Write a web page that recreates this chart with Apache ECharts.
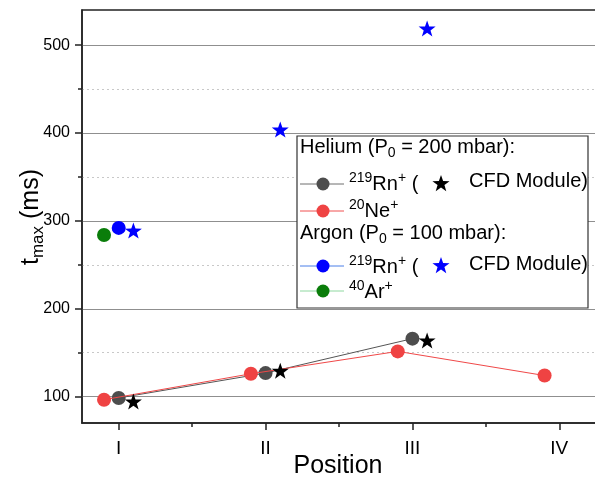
<!DOCTYPE html>
<html><head><meta charset="utf-8">
<script src="https://cdn.jsdelivr.net/npm/echarts@6/dist/echarts.min.js"></script>
<style>html,body{margin:0;padding:0;background:#fff}#c{width:595px;height:477px}</style>
</head><body><div id="c"></div>
<script>
// ---- data ----
var positions = [1, 2, 3, 4];
var positionLabels = ['I', 'II', 'III', 'IV'];
var yTicks = [100, 200, 300, 400, 500];
var yMinorTicks = [150, 250, 350, 450];
var xMinorTicks = [1.5, 2.5, 3.5];
var heRn = [98.5, 126.8, 166];          // Helium 219Rn+
var heRnCFD = [94.5, 129.5, 164];       // Helium 219Rn+ CFD module
var heNe = [96.5, 126, 151.5, 124];     // Helium 20Ne+
var arRn = [292];                        // Argon 219Rn+
var arRnCFD = [289, 404, 519];          // Argon 219Rn+ CFD module
var arAr = [284];                        // Argon 40Ar+

var FONT = 'Liberation Sans, Arial, sans-serif';
var STAR = 'path://M0,-10L2.35,-3.24L9.51,-3.09L3.8,1.24L5.88,8.09L0,4L-5.88,8.09L-3.8,1.24L-9.51,-3.09L-2.35,-3.24Z';
var offL = -0.1, offR = 0.1;

function pts(vals, off) { return vals.map(function (v, i) { return [positions[i] + off, v]; }); }
function starPoints(cx, cy, R) {
  var r = R * 0.4, out = [];
  for (var k = 0; k < 10; k++) {
    var a = -Math.PI / 2 + k * Math.PI / 5, rr = (k % 2 === 0) ? R : r;
    out.push([cx + rr * Math.cos(a), cy + rr * Math.sin(a)]);
  }
  return out;
}

var chart = echarts.init(document.getElementById('c'), null, {renderer: 'canvas'});
var xBase = {type: 'value', min: 0.75, max: 4.25, gridIndex: 0, position: 'bottom', splitLine: {show: false}};
var yBase = {type: 'value', min: 70, max: 540, gridIndex: 0, position: 'left'};
var rich = {
  b: {fontSize: 20, fontFamily: FONT, color: '#000', lineHeight: 26, verticalAlign: 'middle'},
  sup: {fontSize: 14, fontFamily: FONT, color: '#000', lineHeight: 14, verticalAlign: 'top'},
  sub: {fontSize: 14, fontFamily: FONT, color: '#000', lineHeight: 14, verticalAlign: 'bottom'}
};

var legendX = 297, legendY = 136;
function legendLine(y, lineColor, dotColor) {
  return [
    {type: 'line', shape: {x1: 300, y1: y, x2: 344, y2: y}, style: {stroke: lineColor, lineWidth: 1}, z: 100},
    {type: 'circle', shape: {cx: 323, cy: y, r: 6.5}, style: {fill: dotColor}, z: 101}
  ];
}
function legendText(x, y, str) {
  return {type: 'text', left: x, top: y - 13, z: 101,
    style: {text: str, rich: rich, font: '20px ' + FONT, fill: '#000'}};
}

var graphics = [
  {type: 'rect', shape: {x: legendX, y: legendY, width: 291, height: 172},
   style: {fill: '#fff', stroke: '#333', lineWidth: 1.2}, z: 99},
  legendText(300, 150, '{b|Helium (P}{sub|0}{b| = 200 mbar):}'),
  legendText(349, 184, '{sup|219}{b|Rn}{sup|+}{b| (}'),
  {type: 'polygon', shape: {points: starPoints(441, 184, 9)}, style: {fill: '#000'}, z: 101},
  legendText(469, 184, '{b|CFD Module)}'),
  legendText(349, 211, '{sup|20}{b|Ne}{sup|+}'),
  legendText(300, 236, '{b|Argon (P}{sub|0}{b| = 100 mbar):}'),
  legendText(349, 267, '{sup|219}{b|Rn}{sup|+}{b| (}'),
  {type: 'polygon', shape: {points: starPoints(441, 266, 9)}, style: {fill: '#0000ff'}, z: 101},
  legendText(469, 267, '{b|CFD Module)}'),
  legendText(349, 292, '{sup|40}{b|Ar}{sup|+}'),
  {type: 'text', x: 31, y: 217, rotation: Math.PI / 2, z: 101,
   style: {text: '{t|t}{s|max}{t| (ms)}', align: 'center', verticalAlign: 'middle',
     rich: {t: {fontSize: 25, fontFamily: FONT, color: '#000', lineHeight: 32, verticalAlign: 'middle'},
            s: {fontSize: 17, fontFamily: FONT, color: '#000', lineHeight: 17, verticalAlign: 'bottom'}}}},
  {type: 'text', x: 338, y: 466, z: 101,
   style: {text: 'Position', align: 'center', verticalAlign: 'middle', font: '25px ' + FONT, fill: '#000'}}
].concat(legendLine(184, '#6e6e6e', '#4d4d4d'))
 .concat(legendLine(211, '#f05050', '#ef4343'))
 .concat(legendLine(266, '#4a7fe8', '#0000ff'))
 .concat(legendLine(291, '#8fd8a0', '#0a7d0a'));

var option = {
  animation: false,
  backgroundColor: '#fff',
  grid: {left: 82, right: -1, top: 10, bottom: 54, show: true, borderColor: '#222', borderWidth: 1.5,
         backgroundColor: 'transparent', containLabel: false, outerBoundsMode: 'none'},
  xAxis: [
    Object.assign({}, xBase, {
      axisLine: {show: true, onZero: false, lineStyle: {color: '#222', width: 1.5}},
      axisTick: {show: true, inside: false, length: 7, customValues: positions, lineStyle: {color: '#222', width: 1.5}},
      axisLabel: {show: true, customValues: positions, margin: 16, fontSize: 19, fontFamily: FONT, color: '#000',
        formatter: function (v) { var i = positions.indexOf(Math.round(v)); return i >= 0 ? positionLabels[i] : ''; }}
    }),
    Object.assign({}, xBase, {
      axisLine: {show: false},
      axisTick: {show: true, inside: false, length: 4, customValues: xMinorTicks, lineStyle: {color: '#222', width: 1.5}},
      axisLabel: {show: false}
    })
  ],
  yAxis: [
    Object.assign({}, yBase, {
      axisLine: {show: true, onZero: false, lineStyle: {color: '#222', width: 1.5}},
      axisTick: {show: true, inside: false, length: 7, customValues: yTicks, lineStyle: {color: '#222', width: 1.5}},
      axisLabel: {show: true, customValues: yTicks, margin: 12, fontSize: 16, fontFamily: FONT, color: '#000'},
      splitLine: {show: true, lineStyle: {color: '#8f8f8f', width: 1.2}}
    }),
    Object.assign({}, yBase, {
      axisLine: {show: false},
      axisTick: {show: true, inside: false, length: 4, customValues: yMinorTicks, lineStyle: {color: '#222', width: 1.5}},
      axisLabel: {show: false},
      splitLine: {show: true, lineStyle: {color: '#c8c8c8', width: 1, type: [2, 3]}}
    })
  ],
  graphic: graphics,
  series: [
    {type: 'line', name: 'He 219Rn+', data: pts(heRn, 0), symbol: 'circle', symbolSize: 14,
     itemStyle: {color: '#4d4d4d', opacity: 1}, lineStyle: {color: '#555', width: 1}, z: 3},
    {type: 'line', name: 'He 20Ne+', data: pts(heNe, offL), symbol: 'circle', symbolSize: 14,
     itemStyle: {color: '#ef4343', opacity: 1}, lineStyle: {color: '#f04848', width: 1}, z: 4},
    {type: 'scatter', name: 'He CFD', data: pts(heRnCFD, offR), symbol: STAR, symbolSize: [17, 16],
     itemStyle: {color: '#000', opacity: 1}, z: 5},
    {type: 'scatter', name: 'Ar 219Rn+', data: pts(arRn, 0), symbol: 'circle', symbolSize: 14,
     itemStyle: {color: '#0000ff', opacity: 1}, z: 5},
    {type: 'scatter', name: 'Ar 40Ar+', data: pts(arAr, offL), symbol: 'circle', symbolSize: 14,
     itemStyle: {color: '#0a7d0a', opacity: 1}, z: 5},
    {type: 'scatter', name: 'Ar CFD', data: pts(arRnCFD, offR), symbol: STAR, symbolSize: [17, 16],
     itemStyle: {color: '#0000ff', opacity: 1}, z: 5}
  ]
};
chart.setOption(option);
</script></body></html>
